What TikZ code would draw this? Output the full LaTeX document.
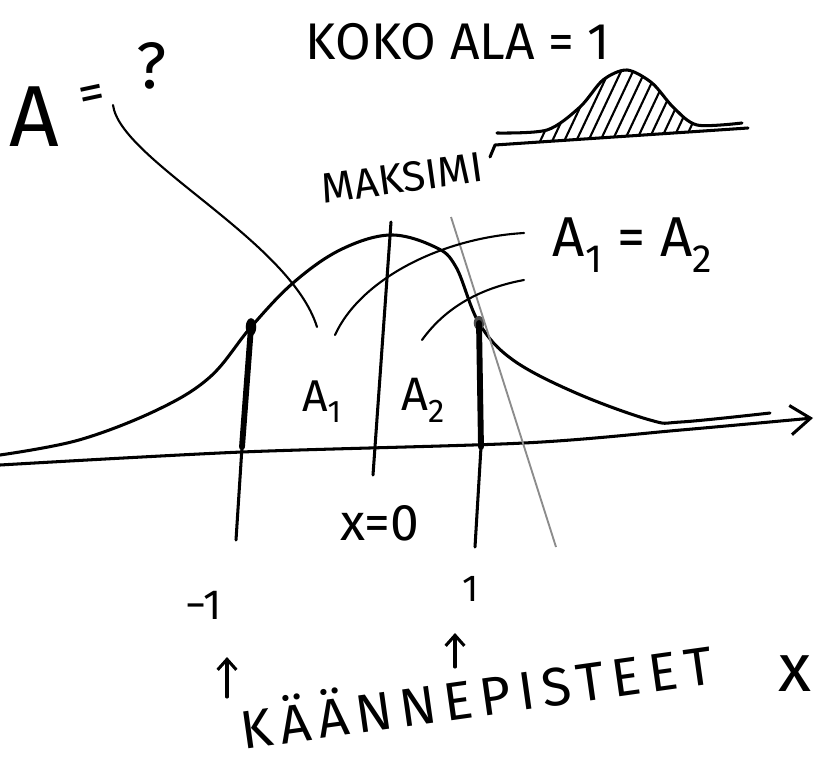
\documentclass[tikz,border=0pt]{standalone}
\usepackage{fontspec}
\setmainfont{Fira Sans}
\usetikzlibrary{arrows.meta,positioning,shapes.geometric}

\begin{document}
\begin{tikzpicture}[
  x=0.03cm, y=-0.03cm,
  ink/.style={line width=2.6pt, line cap=round, line join=round},
  thinink/.style={line width=1.8pt, line cap=round},
  heavy/.style={line width=5pt, line cap=round},
  hand/.style={inner sep=0pt, font=\fontsize{#1}{#1}\selectfont},
  dotnode/.style={ellipse, fill=black, inner sep=0pt, minimum width=9pt, minimum height=15pt},
  arrow/.style={ink, -{Straight Barb[length=9pt,width=16pt]}}
]
\useasboundingbox (0,0) rectangle (819,762);

% texts
\node[hand=44] (total) at (458,42) {KOKO ALA = 1};
\node[hand=74] (areaA) at (34,117) {A};
\node[hand=44, rotate=12] (areaeq) at (93,98) {=};
\node[hand=56] (areaq) at (152,66) {?};
\node[hand=36, rotate=8] (maks) at (402,178) {MAKSIMI};
\node[hand=48] (equal) at (633,245) {A\textsubscript{1} = A\textsubscript{2}};
\node[hand=38] (aone) at (322,402) {A\textsubscript{1}};
\node[hand=40] (atwo) at (423,400) {A\textsubscript{2}};
\node[hand=44] (xzero) at (380,523) {x=0};
\node[hand=36] (minusone) at (204,605) {−1};
\node[hand=32] (plusone) at (471,589) {1};
\node[hand=46, rotate=8] (turn) at (476,693) {\addfontfeature{LetterSpace=14}KÄÄNNEPISTEET};
\node[hand=58] (xlabel) at (795,674) {x};

% small curve, total area
\begin{scope}
  \clip plot[smooth] coordinates {(497,133) (547,130) (580,107) (603,80) (627,70) (652,83) (673,107) (697,125) (742,123)} -- (748,128) -- (495,145) -- cycle;
  \foreach \h in {536,548,...,680}
    \draw[thinink] (\h,150) -- ++(40,-85);
\end{scope}
\draw[ink] plot[smooth] coordinates {(497,133) (547,130) (580,107) (603,80) (627,70) (652,83) (673,107) (697,125) (742,123)};
\draw[ink] (490,157) -- (495,145) -- (748,128);

% axis and curve
\draw[ink, -{Straight Barb[length=17pt,width=25pt]}] plot[smooth] coordinates {(0,465) (242,452) (524,443) (681,430) (813,418)};
\draw[ink] plot[smooth, tension=0.6] coordinates {(0,455) (79,440) (157,410) (210,377) (251,327) (293,283) (340,250) (390,235) (435,247) (456,267) (479,323) (513,360) (576,393) (650,420) (681,422) (770,413)};

% inflection points
\node[dotnode] (dl) at (251,327) {};
\node[dotnode, fill=black!70, minimum height=12pt] (dr) at (479,323) {};
\coordinate (dlb) at (242,447);
\coordinate (dlend) at (236,540);
\coordinate (drb) at (481,447);
\coordinate (drend) at (475,547);
\draw[heavy] (dl.center) -- (dlb);
\draw[ink] (dlb) -- (dlend);
\draw[heavy] (dr.center) -- (drb);
\draw[ink] (drb) -- (drend);

% maximum and tangent
\coordinate (ctop) at (391,222);
\coordinate (cbot) at (373,475);
\draw[ink] (ctop) -- (cbot);
\coordinate (ttop) at (451,217);
\coordinate (tbot) at (556,547);
\draw[line width=1.6pt, black!45] (ttop) -- (tbot);

% pointers
\coordinate (aqstart) at (113,105);
\coordinate (aqend) at (317,327);
\draw[thinink] (aqstart) .. controls (120,160) and (290,240) .. (aqend);
\coordinate (eqa) at (524,233);
\coordinate (eqb) at (524,280);
\draw[thinink] (eqa) .. controls (440,238) and (360,280) .. (335,335);
\draw[thinink] (eqb) .. controls (470,290) and (440,315) .. (422,340);

% arrows to turning points
\coordinate (ltail) at (227,697);
\coordinate (lhead) at (227,657);
\coordinate (rtail) at (455,667);
\coordinate (rhead) at (455,633);
\draw[arrow] (ltail) -- (lhead);
\draw[arrow] (rtail) -- (rhead);
\end{tikzpicture}
\end{document}
